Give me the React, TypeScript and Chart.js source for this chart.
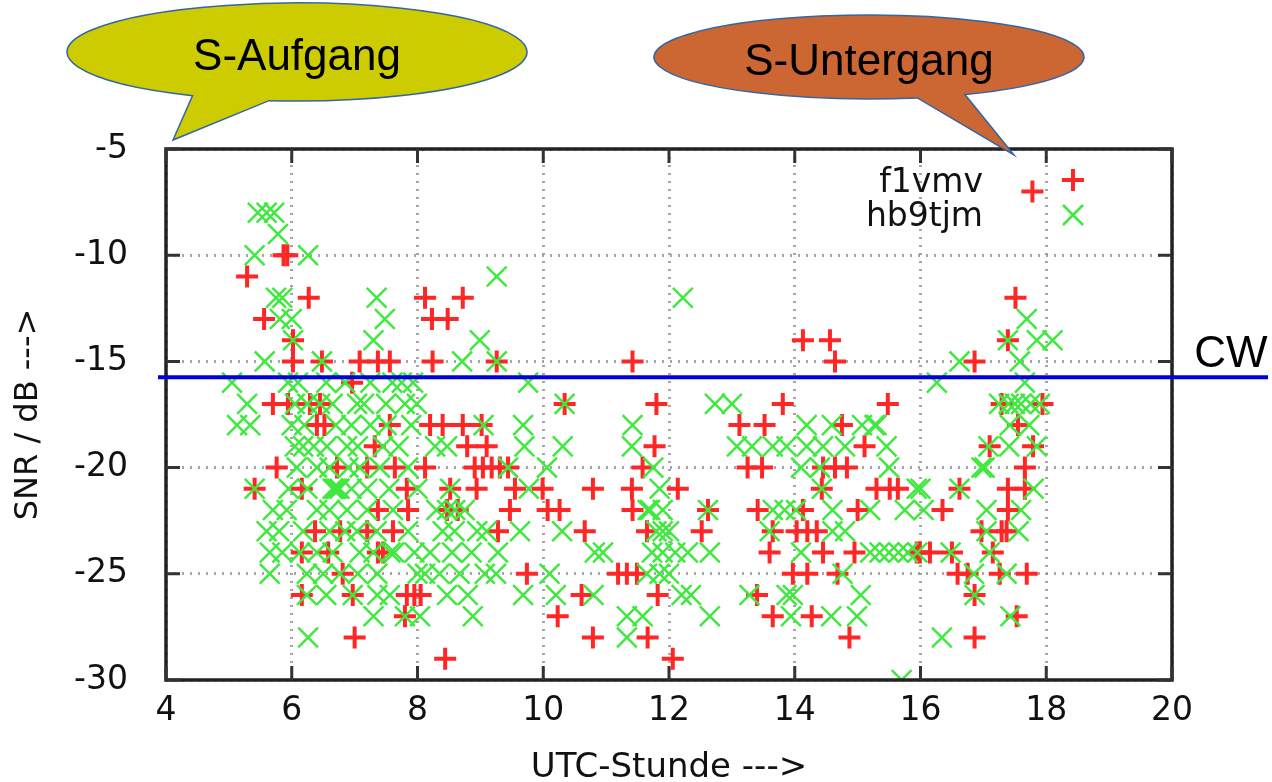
import React, { useEffect, useRef } from "react";
import { Chart, registerables } from "chart.js";

Chart.register(...registerables);

// SNR reports per UTC hour, station f1vmv (red plus)
const f1vmv: [number, number][] = [
  [5.29, -11], [5.56, -13], [5.87, -10], [5.93, -10], [6.27, -12], [6.02, -14], [6.02, -15], [6.48, -15],
  [7.08, -15], [7.37, -15], [7.56, -15], [6.96, -16],
  [5.70, -17], [5.94, -17], [6.29, -17], [6.45, -17],
  [6.40, -18], [6.52, -18], [7.56, -18], [7.32, -19],
  [5.76, -20], [6.72, -20], [7.20, -20], [7.64, -20],
  [5.41, -21], [6.16, -21], [7.83, -21], [7.37, -22], [7.85, -22],
  [6.37, -23], [6.77, -23], [7.20, -23], [7.61, -23],
  [6.16, -24], [6.58, -24], [7.37, -24], [7.45, -24], [6.81, -25],
  [6.16, -26], [6.97, -26], [7.83, -26], [7.95, -26], [8.05, -26], [7.80, -27], [7.00, -28],
  [8.12, -12], [8.72, -12], [8.23, -13], [8.48, -13], [8.24, -15], [9.26, -15], [11.42, -15], [10.34, -17], [11.80, -17],
  [8.20, -18], [8.40, -18], [8.72, -18], [9.02, -18],
  [8.79, -19], [9.10, -19], [11.77, -19],
  [8.12, -20], [8.91, -20], [9.04, -20], [9.18, -20], [9.31, -20], [9.44, -20], [11.58, -20],
  [8.52, -21], [8.94, -21], [9.55, -21], [9.99, -21], [10.79, -21], [11.41, -21],
  [8.47, -22], [8.64, -22], [9.47, -22], [10.07, -22], [10.26, -22], [11.42, -22],
  [9.28, -23], [10.66, -23], [11.65, -23],
  [9.74, -25], [11.19, -25], [11.33, -25], [11.49, -25],
  [10.61, -26], [11.82, -26], [10.23, -27], [10.79, -28], [11.66, -28], [8.44, -29],
  [12.14, -21], [12.06, -29], [12.62, -22], [12.52, -23], [13.81, -17], [15.48, -17], [14.13, -14], [14.56, -14], [14.64, -15],
  [13.12, -18], [13.52, -18], [14.75, -18], [15.11, -19],
  [13.25, -20], [13.48, -20], [14.45, -20], [14.64, -20], [14.83, -20],
  [14.43, -21], [15.30, -21], [15.51, -21], [15.64, -21],
  [13.41, -22], [14.13, -22], [15.00, -22],
  [13.65, -23], [14.03, -23], [14.20, -23], [14.35, -23],
  [13.60, -24], [14.45, -24], [14.95, -24], [15.94, -24],
  [13.97, -25], [14.20, -25], [14.68, -25],
  [13.40, -26], [13.65, -27], [14.27, -27], [14.87, -28],
  [17.78, -7], [17.51, -12], [17.39, -14], [16.86, -15],
  [17.29, -17], [17.94, -17], [17.55, -18], [17.10, -19], [17.79, -19], [17.66, -20],
  [16.62, -21], [17.39, -21], [17.66, -21], [16.35, -22], [17.39, -22],
  [16.97, -23], [17.29, -23], [17.37, -23],
  [15.99, -24], [16.15, -24], [16.50, -24], [17.15, -24],
  [16.59, -25], [16.75, -25], [17.26, -25], [17.69, -25],
  [16.86, -26], [17.53, -27], [16.86, -28],
];

// SNR reports per UTC hour, station hb9tjm (green x)
const hb9tjm: [number, number][] = [
  [5.46, -8], [5.60, -8], [5.72, -8], [5.78, -9], [5.41, -10], [6.26, -10],
  [5.75, -12], [5.85, -12], [5.81, -13], [6.00, -13], [6.02, -14], [5.57, -15], [6.48, -15],
  [7.35, -12], [7.48, -13], [7.30, -14], [5.05, -16], [5.94, -16], [5.29, -17], [6.45, -17], [7.04, -17],
  [6.10, -16], [6.55, -16], [6.85, -16], [7.25, -16], [7.60, -16], [7.75, -16],
  [6.05, -17], [6.25, -17], [6.65, -17], [7.15, -17], [7.50, -17], [7.80, -17],
  [5.13, -18], [5.34, -18], [6.00, -18], [6.20, -18], [6.70, -18], [6.95, -18], [7.25, -18], [7.51, -18], [7.90, -18],
  [6.05, -19], [6.18, -19], [6.35, -19], [6.56, -19], [6.88, -19], [7.05, -19], [7.45, -19], [7.70, -19],
  [6.08, -20], [6.40, -20], [6.60, -20], [6.90, -20], [7.08, -20], [7.40, -20], [7.85, -20],
  [5.41, -21], [5.95, -21], [6.25, -21], [6.65, -21], [6.69, -21], [6.72, -21], [6.76, -21], [6.95, -21], [7.20, -21], [7.55, -21],
  [5.70, -22], [5.92, -22], [6.40, -22], [6.60, -22], [6.88, -22], [7.20, -22], [7.61, -22],
  [5.60, -23], [5.80, -23], [6.18, -23], [6.60, -23], [6.85, -23], [7.04, -23], [7.35, -23], [7.85, -23],
  [5.65, -24], [5.85, -24], [6.13, -24], [6.40, -24], [6.65, -24], [7.08, -24], [7.30, -24], [7.57, -24], [7.63, -24], [7.95, -24],
  [5.65, -25], [6.24, -25], [6.50, -25], [6.77, -25], [7.05, -25], [7.36, -25],
  [6.24, -26], [6.55, -26], [6.97, -26], [7.36, -26], [7.56, -26],
  [7.80, -27], [7.30, -27], [6.26, -28],
  [9.26, -11], [8.99, -14], [8.71, -15], [9.26, -15], [9.76, -16], [7.93, -16], [7.99, -17], [10.34, -17],
  [9.05, -18], [9.68, -18], [11.42, -18],
  [8.28, -19], [8.47, -19], [9.70, -19], [10.31, -19], [11.41, -19],
  [9.44, -20], [10.06, -20], [11.75, -20],
  [8.00, -21], [8.52, -21], [9.77, -21], [11.85, -21],
  [8.30, -22], [8.47, -22], [8.60, -22], [8.75, -22], [11.66, -22], [11.70, -22], [11.90, -22],
  [8.40, -23], [8.59, -23], [8.95, -23], [9.10, -23], [9.63, -23], [10.30, -23], [11.80, -23], [11.90, -23], [12.00, -23],
  [8.20, -24], [8.55, -24], [8.86, -24], [9.28, -24], [10.82, -24], [10.95, -24], [11.73, -24], [11.90, -24],
  [8.00, -25], [8.12, -25], [8.35, -25], [8.67, -25], [9.07, -25], [9.25, -25], [10.10, -25], [11.65, -25], [11.85, -25],
  [8.47, -26], [8.80, -26], [9.68, -26], [10.20, -26], [10.80, -26],
  [8.04, -27], [8.88, -27], [11.33, -27], [11.58, -27], [11.33, -28],
  [12.22, -12], [12.73, -17], [13.00, -17],
  [12.10, -24], [12.30, -24], [12.65, -24], [12.00, -25], [12.20, -26], [12.35, -26], [12.65, -27],
  [14.19, -18], [14.59, -18], [15.07, -18], [15.27, -18], [15.30, -18],
  [13.08, -19], [13.32, -19], [13.65, -19], [13.87, -19], [14.19, -19], [14.45, -19], [14.80, -19], [15.46, -19],
  [14.10, -20], [14.40, -20], [15.50, -20],
  [14.43, -21], [15.94, -21],
  [12.62, -22], [13.65, -22], [13.84, -22], [14.02, -22], [14.60, -22], [15.20, -22], [15.75, -22],
  [13.60, -23], [14.60, -23], [14.80, -23],
  [14.10, -24], [15.20, -24], [15.35, -24], [15.50, -24], [15.65, -24], [15.80, -24],
  [14.76, -25],
  [13.28, -26], [13.87, -26], [13.97, -26], [15.05, -26],
  [13.94, -27], [14.58, -27], [14.99, -27], [15.70, -30],
  [17.69, -13], [17.85, -14], [18.10, -14], [17.39, -14], [16.62, -15], [17.58, -15], [16.26, -16], [17.66, -16],
  [17.25, -17], [17.40, -17], [17.50, -17], [17.60, -17], [17.75, -17], [17.90, -17],
  [17.42, -18], [17.73, -18], [17.08, -19], [17.41, -19], [17.85, -19], [16.97, -20], [17.02, -20],
  [16.62, -21], [16.00, -21], [17.80, -21], [16.05, -22], [17.05, -22], [17.60, -22],
  [17.05, -23], [17.56, -23], [15.95, -24], [16.48, -24], [17.10, -24],
  [16.85, -25], [17.37, -25], [16.86, -26], [17.43, -27], [16.34, -28],
];

// Axis ranges and tick spacing
const xRange = [4, 20];
const xStep = 2;
const yRange = [-30, -5];
const yStep = 5;

// CW reference level in dB
const cwLevel = -15.75;

const RED = "rgb(255,38,38)";
const GREEN = "rgb(64,232,64)";
const TEXT = "#111";
const FONT = "'DejaVu Sans', sans-serif";

const toPoints = (pairs: [number, number][]) => pairs.map(([x, y]) => ({ x, y }));

const overlayPlugin = {
  id: "overlay",
  afterDraw(chart: any) {
    const { ctx, chartArea: a, scales } = chart;
    const xs = scales.x;
    const ys = scales.y;
    ctx.save();

    // frame
    ctx.strokeStyle = "#222";
    ctx.lineWidth = 3.5;
    ctx.strokeRect(a.left, a.top, a.right - a.left, a.bottom - a.top);

    // inward tick marks on all four sides
    ctx.lineWidth = 3;
    ctx.strokeStyle = "#333";
    const tl = 14;
    ctx.beginPath();
    for (let v = xRange[0]; v <= xRange[1]; v += xStep) {
      const px = xs.getPixelForValue(v);
      ctx.moveTo(px, a.bottom);
      ctx.lineTo(px, a.bottom - tl);
      ctx.moveTo(px, a.top);
      ctx.lineTo(px, a.top + tl);
    }
    for (let v = yRange[0]; v <= yRange[1]; v += yStep) {
      const py = ys.getPixelForValue(v);
      ctx.moveTo(a.left, py);
      ctx.lineTo(a.left + tl, py);
      ctx.moveTo(a.right, py);
      ctx.lineTo(a.right - tl, py);
    }
    ctx.stroke();

    // CW level line, running past the plot to the label
    const cy = ys.getPixelForValue(cwLevel);
    ctx.strokeStyle = "#0000dd";
    ctx.lineWidth = 4;
    ctx.beginPath();
    ctx.moveTo(a.left - 8, cy);
    ctx.lineTo(1268, cy);
    ctx.stroke();
    ctx.fillStyle = "#000";
    ctx.font = "44px 'Liberation Sans', Arial, sans-serif";
    ctx.textAlign = "center";
    ctx.textBaseline = "alphabetic";
    ctx.fillText("CW", 1231, 367);

    // legend
    ctx.font = `33px ${FONT}`;
    ctx.fillStyle = TEXT;
    ctx.textAlign = "right";
    ctx.fillText("f1vmv", 983, 192);
    ctx.fillText("hb9tjm", 983, 226);
    ctx.lineWidth = 4;
    ctx.strokeStyle = RED;
    ctx.beginPath();
    ctx.moveTo(1062, 180);
    ctx.lineTo(1084, 180);
    ctx.moveTo(1073, 169);
    ctx.lineTo(1073, 191);
    ctx.stroke();
    ctx.lineWidth = 2.5;
    ctx.strokeStyle = GREEN;
    ctx.beginPath();
    ctx.moveTo(1063, 205);
    ctx.lineTo(1083, 225);
    ctx.moveTo(1083, 205);
    ctx.lineTo(1063, 225);
    ctx.stroke();

    // speech bubbles
    const bubble = (
      cx: number, cyy: number, rx: number, ry: number,
      a0: number, a1: number, tip: [number, number], fill: string,
      text: string, tx: number, ty: number
    ) => {
      ctx.beginPath();
      ctx.ellipse(cx, cyy, rx, ry, 0, (a0 * Math.PI) / 180, (a1 * Math.PI) / 180, false);
      ctx.lineTo(tip[0], tip[1]);
      ctx.closePath();
      ctx.fillStyle = fill;
      ctx.fill();
      ctx.strokeStyle = "#3465a4";
      ctx.lineWidth = 1.5;
      ctx.stroke();
      ctx.fillStyle = "#000";
      ctx.font = "44px 'Liberation Sans', Arial, sans-serif";
      ctx.textAlign = "center";
      ctx.textBaseline = "alphabetic";
      ctx.fillText(text, tx, ty);
    };
    bubble(297, 52, 230, 49, 117, 457, [173, 140], "#cccc00", "S-Aufgang", 297, 70);
    bubble(869, 57, 215, 42, 77, 423.5, [1014, 155], "#cc6633", "S-Untergang", 869, 75);

    ctx.restore();
  },
};

export default function App() {
  const canvasRef = useRef<HTMLCanvasElement>(null);

  useEffect(() => {
    if (!canvasRef.current) return;
    const tickFont = { family: FONT, size: 33 };
    const chart = new Chart(canvasRef.current, {
      type: "scatter",
      data: {
        datasets: [
          {
            label: "hb9tjm",
            data: toPoints(hb9tjm),
            pointStyle: "crossRot",
            pointRadius: 14,
            borderColor: GREEN,
            backgroundColor: GREEN,
            borderWidth: 2.5,
            order: 0,
          },
          {
            label: "f1vmv",
            data: toPoints(f1vmv),
            pointStyle: "cross",
            pointRadius: 11,
            borderColor: RED,
            backgroundColor: RED,
            borderWidth: 4,
            order: 1,
          },
        ],
      },
      options: {
        responsive: false,
        animation: false,
        events: [],
        layout: { padding: { top: 149, right: 100, left: 0, bottom: 0 } },
        plugins: { legend: { display: false }, tooltip: { enabled: false } },
        scales: {
          x: {
            type: "linear",
            min: xRange[0],
            max: xRange[1],
            ticks: { stepSize: xStep, font: tickFont, color: TEXT, padding: 12 },
            grid: { color: "rgba(150,150,150,0.85)", lineWidth: 3, drawTicks: false },
            border: { display: false, dash: [2, 6] },
            title: {
              display: true,
              text: "UTC-Stunde --->",
              color: TEXT,
              font: { family: FONT, size: 34, lineHeight: 0.8 },
              padding: 0,
            },
            afterFit: (s: any) => {
              s.height = 102;
            },
          },
          y: {
            type: "linear",
            min: yRange[0],
            max: yRange[1],
            ticks: { stepSize: yStep, font: tickFont, color: TEXT, padding: 38 },
            grid: { color: "rgba(150,150,150,0.85)", lineWidth: 3, drawTicks: false },
            border: { display: false, dash: [2, 6] },
            title: {
              display: true,
              text: "SNR / dB --->",
              color: TEXT,
              font: { family: FONT, size: 32, lineHeight: 1.2 },
              padding: { top: 9, bottom: 0 },
            },
            afterFit: (s: any) => {
              s.width = 166;
            },
          },
        },
      },
      plugins: [overlayPlugin],
    });
    return () => chart.destroy();
  }, []);

  return (
    <div style={{ position: "fixed", left: 0, top: 0, width: 1272, height: 782, background: "#fff" }}>
      <canvas ref={canvasRef} width={1272} height={782} style={{ display: "block" }} />
    </div>
  );
}
